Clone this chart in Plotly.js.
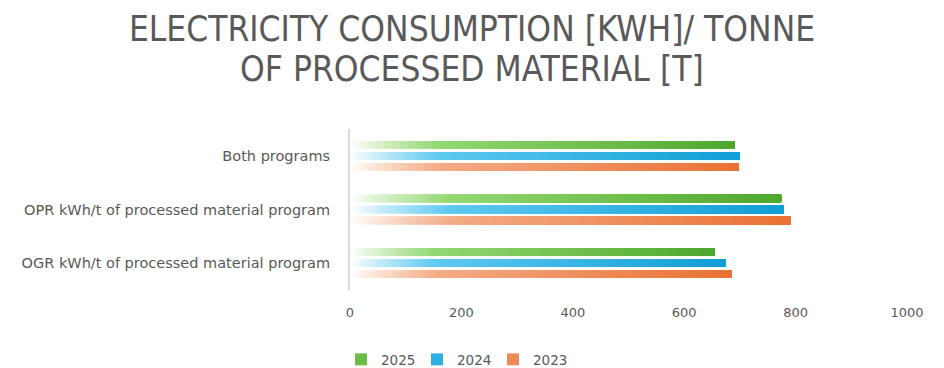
<!DOCTYPE html>
<html>
<head>
<meta charset="utf-8">
<script src="https://cdn.plot.ly/plotly-3.0.1.min.js"></script>
<style>html,body{margin:0;padding:0;background:#fff;}#chart{width:944px;height:368px;}</style>
</head>
<body>
<div id="chart"></div>
<script>
// Categories (bottom to top on the axis)
const categories = [
  'OGR kWh/t of processed material program',
  'OPR kWh/t of processed material program',
  'Both programs'
];
const seriesNames = ['2023', '2024', '2025'];
const values2023 = [685, 791, 697];
const values2024 = [675, 778, 699];
const values2025 = [655, 774, 691];
const xTickValues = [0, 200, 400, 600, 800, 1000];
const titleLine1 = 'ELECTRICITY CONSUMPTION [KWH]/ TONNE';
const titleLine2 = 'OF PROCESSED MATERIAL [T]';

// Styles
const gradients = {
  '2023': ['#ffffff', '#f4ab86', '#e97132'],
  '2024': ['#ffffff', '#5ec9f1', '#0f9ed5'],
  '2025': ['#ffffff', '#93d872', '#4ea72e']
};
const legendColor = {'2023': '#ee8a55', '2024': '#2fb0e2', '2025': '#6cbd48'};
const legendRank = {'2023': 3, '2024': 2, '2025': 1};
const LIGHT_STOP = 0.23;
const N = 100;
const titleFont = {family: 'Liberation Sans Narrow, DejaVu Sans Condensed, sans-serif', size: 35, color: '#595959'};

function hex2rgb(h){h=h.replace('#','');return [0,2,4].map(i=>parseInt(h.substr(i,2),16));}
function mix(a,b,t){const A=hex2rgb(a),B=hex2rgb(b);return 'rgb('+A.map((v,i)=>Math.round(v+(B[i]-v)*t)).join(',')+')';}
function colorAt(stops,f){
  if(f<=LIGHT_STOP) return mix(stops[0],stops[1],Math.pow(f/LIGHT_STOP,0.9));
  return mix(stops[1],stops[2],(f-LIGHT_STOP)/(1-LIGHT_STOP));
}

const seriesValues = {'2023': values2023, '2024': values2024, '2025': values2025};
const traces = [];
seriesNames.forEach(name => {
  const vals = seriesValues[name];
  for (let k = 0; k < N; k++) {
    const f = k / N;
    traces.push({
      type: 'bar',
      orientation: 'h',
      y: categories,
      base: vals.map(v => v * f),
      x: vals.map(v => v * (1 - f)),
      offsetgroup: name,
      name: name,
      legendgroup: name,
      showlegend: false,
      hoverinfo: 'skip',
      marker: {color: colorAt(gradients[name], (k + 0.5) / N), line: {width: 0}}
    });
  }
  // legend entry (zero-length bar)
  traces.push({
    type: 'bar', orientation: 'h', y: categories, x: vals.map(() => 0),
    offsetgroup: name, name: name, legendgroup: name, showlegend: true,
    legendrank: legendRank[name], hoverinfo: 'skip',
    marker: {color: legendColor[name], line: {width: 0}}
  });
});

const layout = {
  width: 944, height: 368,
  paper_bgcolor: '#ffffff', plot_bgcolor: '#ffffff',
  margin: {l: 350, r: 37, t: 129, b: 78},
  barmode: 'group',
  bargap: 0.383,
  bargroupgap: 0.32,
  title: {
    text: titleLine1,
    font: titleFont,
    x: 0.5, xref: 'container', xanchor: 'center',
    y: 0.923, yref: 'container', yanchor: 'middle'
  },
  annotations: [{
    text: titleLine2, font: titleFont, showarrow: false,
    xref: 'paper', yref: 'paper', x: (472 - 350) / 557, y: (290 - 69.5) / 161,
    xanchor: 'center', yanchor: 'middle'
  }],
  font: {family: 'DejaVu Sans, sans-serif', color: '#595959', size: 13},
  xaxis: {
    range: [0, 1000], tickvals: xTickValues, ticktext: xTickValues.map(String),
    showgrid: false, zeroline: false, showline: false, ticks: '',
    ticklabelstandoff: 13,
    tickfont: {family: 'DejaVu Sans, sans-serif', size: 13, color: '#595959'}
  },
  yaxis: {
    type: 'category', categoryorder: 'array', categoryarray: categories,
    showgrid: false, zeroline: false, showline: true, linecolor: '#d9d9d9', linewidth: 2,
    ticks: '', ticklabelstandoff: 15,
    tickfont: {family: 'DejaVu Sans, sans-serif', size: 14.5, color: '#595959'}
  },
  legend: {
    orientation: 'h', xref: 'container', yref: 'container',
    x: 0.482, xanchor: 'center', y: 0.065, yanchor: 'top',
    traceorder: 'normal', itemwidth: 30, entrywidth: 31,
    font: {family: 'DejaVu Sans, sans-serif', size: 13.5, color: '#595959'}
  },
  showlegend: true
};

Plotly.newPlot('chart', traces, layout, {displayModeBar: false, staticPlot: true});
</script>
</body>
</html>
